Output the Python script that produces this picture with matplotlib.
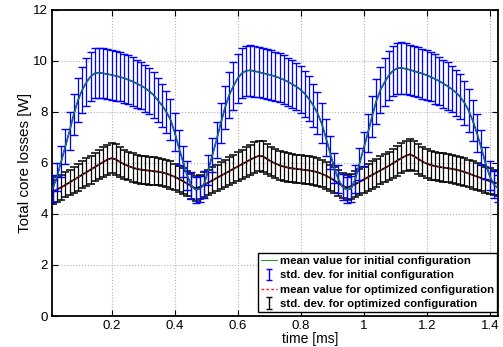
import numpy as np
import matplotlib
matplotlib.use("Agg")
import matplotlib.pyplot as plt

plt.rcParams['font.family'] = ['Liberation Sans', 'DejaVu Sans']

# sample times [ms]
time_ms = np.linspace(0.0125, 1.425, 107)

# initial configuration: mean and std. dev. [W]
init_mean = [5.0, 5.45, 6.05, 6.65, 7.25, 7.9, 8.45, 8.85, 9.15, 9.38,
             9.5, 9.53, 9.5, 9.47, 9.44, 9.4, 9.36, 9.31, 9.25, 9.18,
             9.1, 9.02, 8.92, 8.8, 8.65, 8.45, 8.25, 8.0, 7.7, 7.2,
             6.6, 6.05, 5.5, 5.1, 4.95, 4.97,
             5.15, 5.7, 6.3, 6.9, 7.55, 8.15, 8.65, 9.0, 9.3, 9.5,
             9.6, 9.62, 9.59, 9.55, 9.51, 9.47, 9.43, 9.38, 9.32, 9.25,
             9.17, 9.08, 8.98, 8.86, 8.7, 8.5, 8.25, 7.95, 7.55, 7.0,
             6.4, 5.8, 5.35, 5.05, 4.95, 4.98,
             5.35, 5.95, 6.55, 7.15, 7.8, 8.4, 8.85, 9.15, 9.42, 9.6,
             9.7, 9.71, 9.68, 9.64, 9.59, 9.54, 9.49, 9.43, 9.36, 9.28,
             9.2, 9.1, 9.0, 8.88, 8.75, 8.58, 8.35, 8.05, 7.65, 7.15,
             6.6, 6.0, 5.5, 5.15, 5.0]
init_std = [0.52, 0.56, 0.62, 0.68, 0.75, 0.81, 0.87, 0.91, 0.94, 0.97,
            0.98, 0.98, 0.98, 0.98, 0.97, 0.97, 0.96, 0.96, 0.95, 0.95,
            0.94, 0.93, 0.92, 0.91, 0.89, 0.87, 0.85, 0.82, 0.79, 0.74,
            0.68, 0.62, 0.57, 0.53, 0.51, 0.51,
            0.53, 0.59, 0.65, 0.71, 0.78, 0.84, 0.89, 0.93, 0.96, 0.98,
            0.99, 1.0, 1.0, 0.99, 0.99, 0.98, 0.98, 0.97, 0.96, 0.95,
            0.94, 0.93, 0.92, 0.91, 0.9, 0.88, 0.85, 0.82, 0.78, 0.72,
            0.66, 0.6, 0.55, 0.52, 0.51, 0.51,
            0.55, 0.61, 0.67, 0.74, 0.8, 0.87, 0.91, 0.94, 0.97, 0.99,
            1.0, 1.0, 1.0, 0.99, 0.99, 0.98, 0.98, 0.97, 0.96, 0.96,
            0.95, 0.94, 0.93, 0.91, 0.9, 0.88, 0.86, 0.83, 0.79, 0.74,
            0.68, 0.62, 0.57, 0.53, 0.52]

# optimized configuration: mean and std. dev. [W]
opt_mean = [4.85, 4.95, 5.04, 5.13, 5.23, 5.33, 5.43, 5.53, 5.63, 5.73,
            5.83, 5.93, 6.03, 6.12, 6.18, 6.13, 6.03, 5.94, 5.87, 5.81,
            5.76, 5.73, 5.71, 5.69, 5.67, 5.65, 5.62, 5.58, 5.52, 5.45,
            5.37, 5.28, 5.18, 5.08, 5.0, 5.05,
            5.13, 5.22, 5.31, 5.4, 5.49, 5.58, 5.67, 5.76, 5.85, 5.94,
            6.03, 6.12, 6.2, 6.27, 6.25, 6.15, 6.05, 5.97, 5.9, 5.85,
            5.81, 5.78, 5.76, 5.74, 5.72, 5.7, 5.67, 5.63, 5.57, 5.5,
            5.41, 5.31, 5.2, 5.1, 5.03, 5.08,
            5.16, 5.25, 5.34, 5.43, 5.52, 5.61, 5.7, 5.79, 5.88, 5.98,
            6.08, 6.18, 6.27, 6.33, 6.26, 6.15, 6.05, 5.97, 5.91, 5.87,
            5.84, 5.81, 5.79, 5.76, 5.73, 5.69, 5.64, 5.58, 5.52, 5.46,
            5.4, 5.34, 5.28, 5.23, 5.18]
opt_std = [0.47, 0.48, 0.48, 0.49, 0.5, 0.51, 0.52, 0.53, 0.54, 0.55,
           0.56, 0.57, 0.58, 0.59, 0.59, 0.59, 0.58, 0.57, 0.56, 0.56,
           0.55, 0.55, 0.55, 0.55, 0.54, 0.54, 0.54, 0.54, 0.53, 0.52,
           0.52, 0.51, 0.5, 0.49, 0.48, 0.48,
           0.49, 0.5, 0.51, 0.52, 0.53, 0.54, 0.54, 0.55, 0.56, 0.57,
           0.58, 0.59, 0.6, 0.6, 0.6, 0.59, 0.58, 0.57, 0.57, 0.56,
           0.56, 0.55, 0.55, 0.55, 0.55, 0.55, 0.54, 0.54, 0.53, 0.53,
           0.52, 0.51, 0.5, 0.49, 0.48, 0.49,
           0.5, 0.5, 0.51, 0.52, 0.53, 0.54, 0.55, 0.56, 0.56, 0.57,
           0.58, 0.59, 0.6, 0.61, 0.6, 0.59, 0.58, 0.57, 0.57, 0.56,
           0.56, 0.56, 0.56, 0.55, 0.55, 0.55, 0.54, 0.54, 0.53, 0.52,
           0.52, 0.51, 0.51, 0.5, 0.5]

x_ticks = [0.2, 0.4, 0.6, 0.8, 1.0, 1.2, 1.4]
x_tick_labels = ['0.2', '0.4', '0.6', '0.8', '1', '1.2', '1.4']
y_ticks = [0, 2, 4, 6, 8, 10, 12]

fig = plt.figure(figsize=(5.03, 3.47), dpi=100)
ax = fig.add_axes([0.1034, 0.0893, 0.8866, 0.8833])

# optimized configuration (drawn first, initial one sits on top)
eb_opt = ax.errorbar(time_ms, opt_mean, yerr=opt_std, color='black',
                     lw=1.3, elinewidth=0.9, capsize=2.9, capthick=1.1, zorder=2)
for cap in eb_opt[1]:
    cap.set_color('#4a4a4a')
ln_opt, = ax.plot(time_ms, opt_mean, color='#ff2020', ls=(0, (1.2, 2.2)), lw=0.8, zorder=3)

# initial configuration
eb_init = ax.errorbar(time_ms, init_mean, yerr=init_std, color='#0000ff',
                      lw=1.2, elinewidth=0.9, capsize=2.9, capthick=1.0, zorder=4)
for cap in eb_init[1]:
    cap.set_color('#6b6bff')
ln_init, = ax.plot(time_ms, init_mean, color='#1a9a1a', lw=0.7, zorder=5)

# legend proxies with only the bar + caps
px_init = ax.errorbar([np.nan], [np.nan], yerr=[1], fmt='none', ecolor='#0000ff',
                      elinewidth=1.0, capsize=2.5)
px_opt = ax.errorbar([np.nan], [np.nan], yerr=[1], fmt='none', ecolor='black',
                     elinewidth=1.0, capsize=2.5)
ln_leg_opt, = ax.plot([], [], color='#ff2020', ls=(0, (2, 1.5)), lw=1.0)

leg = ax.legend([ln_init, px_init, ln_leg_opt, px_opt],
                ['mean value for initial configuration',
                 'std. dev. for initial configuration',
                 'mean value for optimized configuration',
                 'std. dev. for optimized configuration'],
                loc='lower right', bbox_to_anchor=(0.998, 0.012), borderaxespad=0,
                prop={'weight': 'bold', 'size': 8.2}, fancybox=False,
                edgecolor='black', framealpha=1, labelspacing=0.38,
                handlelength=1.4, handletextpad=0.2, borderpad=0.3)
leg.get_frame().set_linewidth(1.0)

ax.set_xlim(0.01, 1.425)
ax.set_ylim(0, 12)
ax.set_xticks(x_ticks)
ax.set_xticklabels(x_tick_labels)
ax.set_yticks(y_ticks)
ax.tick_params(direction='in', top=True, right=True, length=4, width=0.8,
               labelsize=9.5, pad=3)
ax.grid(True, ls=':', color='#b0b0b0', lw=0.8)
for sp in ax.spines.values():
    sp.set_linewidth(1.3)

ax.set_xlabel('time [ms]', fontsize=10)
ax.xaxis.set_label_coords(0.578, -0.052)
ax.set_ylabel('Total core losses [W]', fontsize=11)
ax.yaxis.set_label_coords(-0.045, 0.5)

fig.savefig('out.png', dpi=100)
